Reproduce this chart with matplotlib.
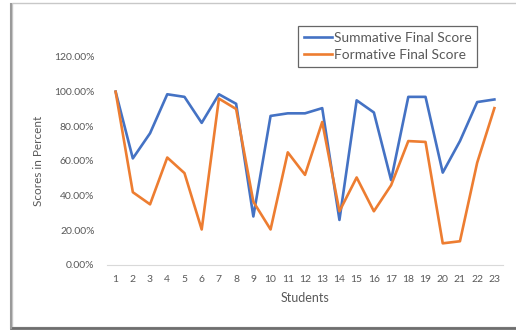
import matplotlib
matplotlib.use("Agg")
import matplotlib.pyplot as plt
from matplotlib.ticker import PercentFormatter
from matplotlib.patches import Rectangle
from matplotlib.lines import Line2D

# values (fraction of 1)
students = list(range(1, 24))
summative = [1.00, 0.615, 0.76, 0.985, 0.97, 0.82, 0.985, 0.93, 0.28, 0.86, 0.875, 0.875,
             0.905, 0.26, 0.95, 0.88, 0.49, 0.97, 0.97, 0.533, 0.715, 0.94, 0.955]
formative = [1.00, 0.42, 0.35, 0.62, 0.53, 0.205, 0.96, 0.90, 0.365, 0.205, 0.65, 0.52,
             0.825, 0.31, 0.505, 0.31, 0.46, 0.715, 0.71, 0.125, 0.137, 0.59, 0.905]
yticks = [0, 0.2, 0.4, 0.6, 0.8, 1.0, 1.2]

W, H = 516, 330
fig = plt.figure(figsize=(W / 100, H / 100), dpi=100)
plt.rcParams['font.family'] = ['Lato', 'DejaVu Sans']
txt = "#595959"

# chart frame with a bit of shadow on the left/bottom (drawn behind the axes)
fig.patches.append(Rectangle((12 / W, 1 - 327 / H), 1.2, 324 / H, transform=fig.transFigure,
                             facecolor="white", edgecolor="#c8c8c8", lw=1.0, zorder=-2))
fig.lines.append(Line2D([11 / W, 1], [1 - 327.5 / H] * 2, transform=fig.transFigure,
                        color="#6e6e6e", lw=2.0, zorder=-1))
fig.lines.append(Line2D([11 / W] * 2, [1 - 327.5 / H, 1 - 4 / H], transform=fig.transFigure,
                        color="#9a9a9a", lw=1.5, zorder=-1))

ax = fig.add_axes([107 / W, 1 - 265 / H, (503 - 107) / W, (265 - 57) / H])
ax.set_facecolor("none")
ax.plot(students, summative, color="#4472C4", lw=1.9, label="Summative Final Score")
ax.plot(students, formative, color="#ED7D31", lw=1.9, label="Formative Final Score")

ax.set_xlim(0.5, 23.5)
ax.set_ylim(0, 1.2)
ax.set_xticks(students)
ax.set_yticks(yticks)
ax.yaxis.set_major_formatter(PercentFormatter(1.0, decimals=2))
ax.tick_params(length=0, labelsize=7.5, colors=txt, pad=7)
ax.tick_params(axis="y", pad=9)
for s in ["top", "right", "left"]:
    ax.spines[s].set_visible(False)
ax.spines["bottom"].set_color("#d9d9d9")
ax.set_xlabel("Students", fontsize=9, color=txt, labelpad=6)
ax.set_ylabel("Scores in Percent", fontsize=8.5, color=txt, labelpad=7)

leg = ax.legend(loc="upper left", bbox_to_anchor=(298 / W, 1 - 26 / H),
                bbox_transform=fig.transFigure, fontsize=9.9, frameon=True, fancybox=False,
                handlelength=2.1, handletextpad=0.1, borderpad=0.4, labelspacing=0.4,
                borderaxespad=0)
leg.get_frame().set_edgecolor("#404040")
leg.get_frame().set_linewidth(0.9)
for t in leg.get_texts():
    t.set_color(txt)

fig.savefig("out.png", dpi=100)
